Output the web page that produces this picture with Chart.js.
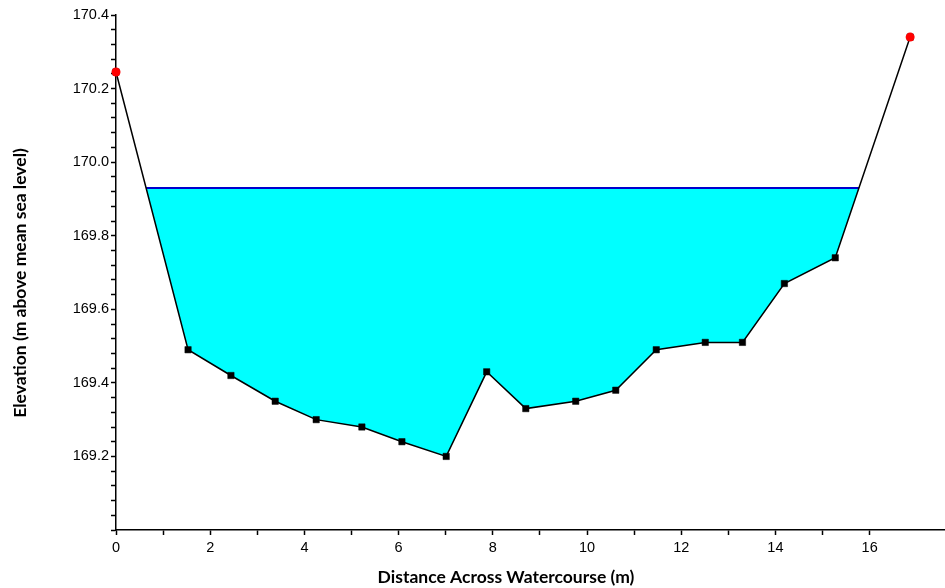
<!DOCTYPE html>
<html>
<head>
<meta charset="utf-8">
<script src="https://cdn.jsdelivr.net/npm/chart.js@4"></script>
<style>
  html, body { margin: 0; padding: 0; background: #fff; }
</style>
</head>
<body>
<canvas id="sectionChart" width="945" height="588"></canvas>
<script>
// Cross-section survey: distance across (m) and bed elevation (m AMSL)
const distance  = [0, 1.53, 2.44, 3.38, 4.25, 5.22, 6.07, 7.01, 7.87, 8.70, 9.76, 10.61, 11.47, 12.51, 13.30, 14.19, 15.27, 16.86];
const elevation = [170.245, 169.49, 169.42, 169.35, 169.30, 169.28, 169.24, 169.20, 169.43, 169.33, 169.35, 169.38, 169.49, 169.51, 169.51, 169.67, 169.74, 170.34];
const bankPoints = [0, 17];          // indexes of the bank top points (red)
const waterLevel = 169.93;

const xTickLabels = [0, 2, 4, 6, 8, 10, 12, 14, 16];
const yTickLabels = [169.2, 169.4, 169.6, 169.8, 170.0, 170.2, 170.4];

const groundPts = distance.map((d, i) => ({ x: d, y: elevation[i] }));
const bankPts = bankPoints.map(i => groundPts[i]);

// part of the profile under water, cut at the water level
function wettedProfile() {
    const pts = [];
    for (let i = 0; i < groundPts.length; i++) {
        const p = groundPts[i];
        if (i > 0) {
            const q = groundPts[i - 1];
            if ((q.y - waterLevel) * (p.y - waterLevel) < 0) {
                const t = (waterLevel - q.y) / (p.y - q.y);
                pts.push({ x: q.x + t * (p.x - q.x), y: waterLevel });
            }
        }
        if (p.y <= waterLevel) pts.push(p);
    }
    return pts;
}
const wetPts = wettedProfile();
const surfacePts = [wetPts[0], wetPts[wetPts.length - 1]];

const tickFont = { family: '"Liberation Sans", Arial, sans-serif', size: 14.5 };

// draw text scaled so it spans a given width
function fitText(ctx, text, x, y, width) {
    ctx.font = 'bold 15px Lato, "Open Sans", sans-serif';
    const size = 15 * width / ctx.measureText(text).width;
    ctx.font = 'bold ' + size.toFixed(1) + 'px Lato, "Open Sans", sans-serif';
    ctx.fillText(text, x, y);
}

// axis titles drawn in the margins (title is offset from plot centre in the original)
const axisTitles = {
    id: "axisTitles",
    afterDraw(chart) {
        const ctx = chart.ctx;
        ctx.save();
        ctx.fillStyle = "#000";
        ctx.textAlign = "center";
        ctx.textBaseline = "middle";
        fitText(ctx, "Distance Across Watercourse (m)", 506, 577, 257);
        ctx.translate(20, 283);
        ctx.rotate(-Math.PI / 2);
        fitText(ctx, "Elevation (m above mean sea level)", 0, 0, 270);
        ctx.restore();
    }
};

const ctx = document.getElementById("sectionChart").getContext("2d");
new Chart(ctx, {
    type: "scatter",
    data: {
        datasets: [
            {
                label: "Banks",
                data: bankPts,
                showLine: false,
                pointStyle: "circle",
                pointRadius: 4.5,
                pointBackgroundColor: "#ff0000",
                pointBorderColor: "#ff0000",
                pointBorderWidth: 0,
                clip: false
            },
            {
                label: "Ground",
                data: groundPts,
                showLine: true,
                borderColor: "#000",
                borderWidth: 1.5,
                pointStyle: "rect",
                pointRadius: 4.5,
                pointBackgroundColor: "#000",
                pointBorderColor: "#000",
                pointBorderWidth: 0.5,
                clip: false
            },
            {
                label: "Water surface",
                data: surfacePts,
                showLine: true,
                borderColor: "#0000cc",
                borderWidth: 2,
                pointRadius: 0
            },
            {
                label: "Water",
                data: wetPts,
                showLine: true,
                borderWidth: 0,
                borderColor: "rgba(0,0,0,0)",
                backgroundColor: "#00ffff",
                pointRadius: 0,
                fill: { value: waterLevel }
            }
        ]
    },
    options: {
        responsive: false,
        animation: false,
        devicePixelRatio: 1,
        layout: { autoPadding: false, padding: { top: 15, right: 0, bottom: 0, left: 0 } },
        plugins: {
            legend: { display: false },
            tooltip: { enabled: false }
        },
        scales: {
            x: {
                type: "linear",
                position: "bottom",
                min: 0,
                max: 17.6,
                afterFit(scale) {
                    scale.height = 58;
                    scale.paddingRight = 0;
                },
                afterBuildTicks(scale) {
                    scale.ticks = scale.ticks.filter(t => Math.abs(t.value - Math.round(t.value)) < 1e-6);
                },
                ticks: {
                    stepSize: 1,
                    autoSkip: false,
                    maxRotation: 0,
                    padding: 4,
                    color: "#000",
                    font: tickFont,
                    callback: v => xTickLabels.includes(Math.round(v)) ? String(Math.round(v)) : ""
                },
                grid: {
                    drawOnChartArea: false,
                    drawTicks: true,
                    tickLength: 5,
                    tickColor: "#000",
                    tickWidth: 1.5
                },
                border: { display: true, color: "#000", width: 1.5 }
            },
            y: {
                type: "linear",
                min: 169.0,
                max: 170.4,
                afterFit(scale) { scale.width = 116; },
                ticks: {
                    stepSize: 0.04,
                    autoSkip: false,
                    padding: 2,
                    color: "#000",
                    font: tickFont,
                    callback: v => {
                        const r = Math.round(v * 100) / 100;
                        return yTickLabels.some(l => Math.abs(l - r) < 1e-6) ? r.toFixed(1) : "";
                    }
                },
                grid: {
                    drawOnChartArea: false,
                    drawTicks: true,
                    tickLength: 5,
                    tickColor: "#000",
                    tickWidth: 1.5
                },
                border: { display: true, color: "#000", width: 1.5 }
            }
        }
    },
    plugins: [axisTitles]
});
</script>
</body>
</html>
